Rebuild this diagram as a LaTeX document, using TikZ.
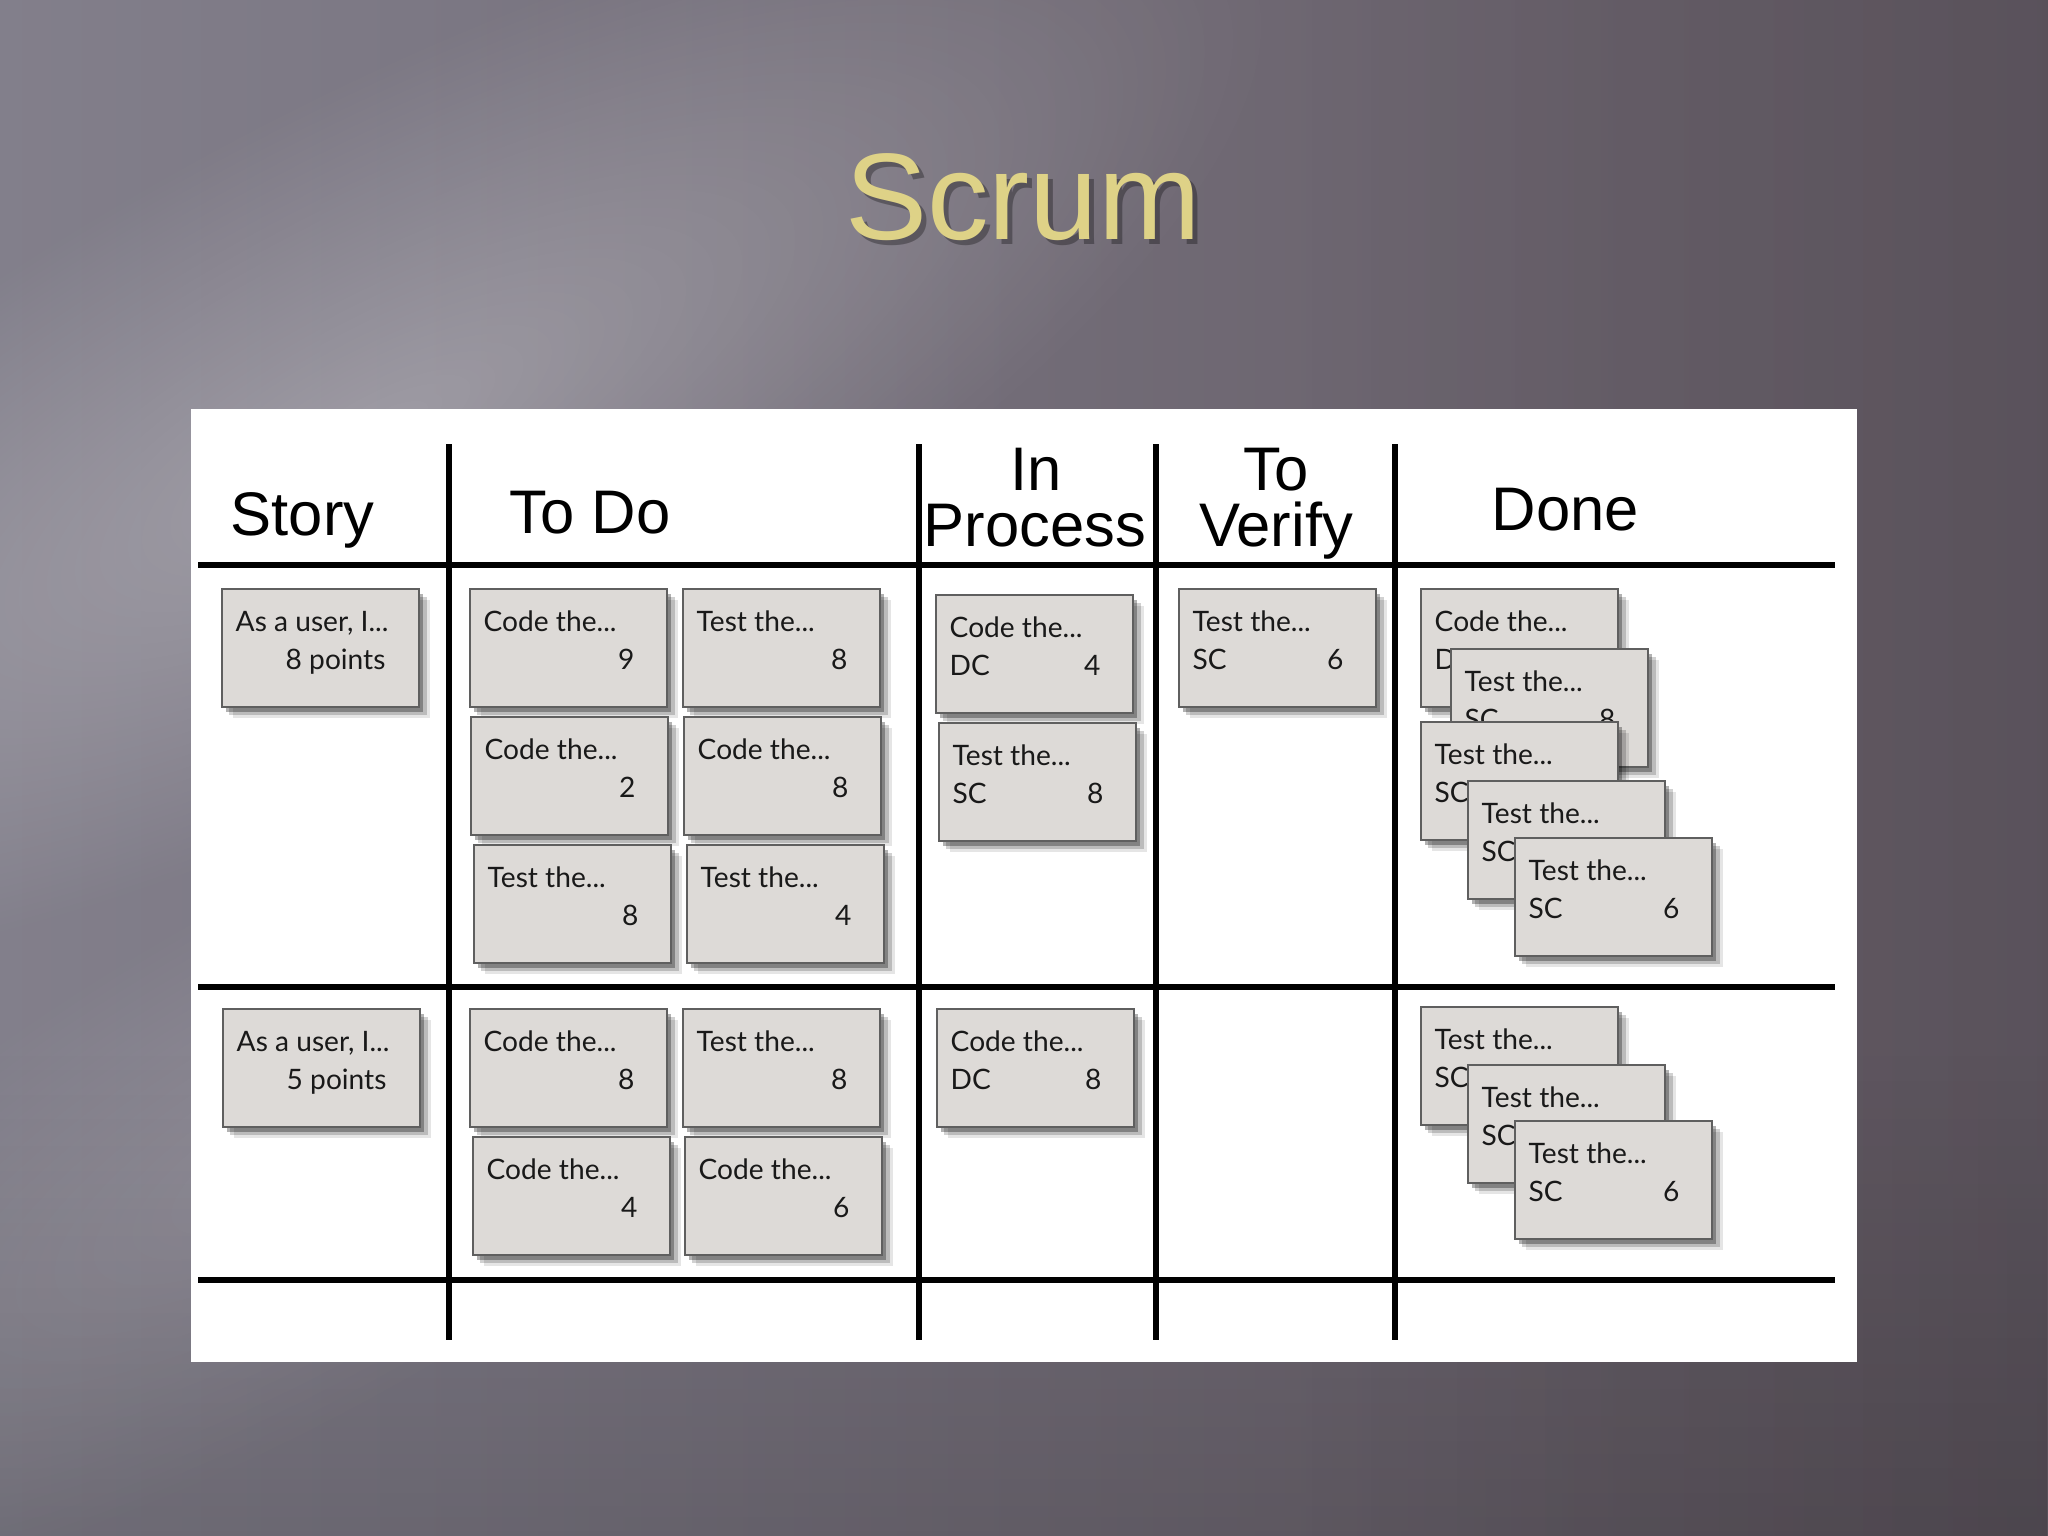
\documentclass[tikz,border=0pt]{standalone}
\usepackage{fontspec}
\setmainfont{Liberation Sans}
\newfontfamily\cardfont{Lato}
\usetikzlibrary{shadows,fadings,calc}

\definecolor{bgA}{RGB}{146,144,156}
\definecolor{bgB}{RGB}{124,120,132}
\definecolor{bgC}{RGB}{104,96,106}
\definecolor{bgD}{RGB}{90,80,90}
\definecolor{gold}{RGB}{222,210,135}
\definecolor{cardfill}{RGB}{221,218,215}
\definecolor{cardedge}{RGB}{95,95,95}
\definecolor{cardink}{RGB}{25,25,25}

\pgfdeclarehorizontalshading{bgsh}{100bp}{color(0bp)=(bgA); color(35bp)=(bgB); color(65bp)=(bgC); color(100bp)=(bgD)}
\tikzfading[name=softspot, inner color=transparent!0, outer color=transparent!100]

\tikzset{
  card/.style={anchor=north west, draw=cardedge, line width=0.6pt, fill=cardfill,
    minimum width=1.97cm, minimum height=1.18cm, inner sep=0pt,
    drop shadow={shadow xshift=3.0pt, shadow yshift=-3.0pt, opacity=0.10, fill=black},
    drop shadow={shadow xshift=2.1pt, shadow yshift=-2.2pt, opacity=0.18, fill=black},
    drop shadow={shadow xshift=1.2pt, shadow yshift=-1.4pt, opacity=0.3, fill=black}},
  ctext/.style={anchor=base west, inner sep=0pt, text=cardink, font=\cardfont\fontsize{8}{9}\selectfont},
  head/.style={inner sep=0pt, text=black, font=\fontsize{17.5}{18}\selectfont},
  grid/.style={line width=1.6pt, black},
}

\newcommand\kcard[6]{%
  \node[card] (#1) at (#2,#3) {};
  \node[ctext] (#1-t) at ($(#1.north west)+(14,43)$) {#4};
  \if\relax\detokenize{#5}\relax\else
    \node[ctext] (#1-l) at ($(#1.north west)+(14,81)$) {#5};\fi
  \if\relax\detokenize{#6}\relax\else
    \node[ctext, anchor=base east] (#1-r) at ($(#1.north east)+(-33,81)$) {#6};\fi
}

\begin{document}
\begin{tikzpicture}[x=0.01cm,y=-0.01cm]
\useasboundingbox (0,0) rectangle (2048,1536);
% background
\shade[shading=bgsh, shading angle=0] (0,0) rectangle (2048,1536);
\begin{scope}[transform canvas={rotate around={28:(380,430)}}]
  \fill[white, opacity=0.26, path fading=softspot] (380,430) ellipse [x radius=1000, y radius=330];
\end{scope}
\begin{scope}[transform canvas={rotate around={30:(300,1150)}}]
  \fill[white, opacity=0.14, path fading=softspot] (300,1150) ellipse [x radius=800, y radius=260];
\end{scope}
\fill[black, opacity=0.15, path fading=north] (0,1050) rectangle (2048,1536);
\fill[black, opacity=0.10, path fading=west] (1300,0) rectangle (2048,1536);

% title
\node[anchor=base, inner sep=0pt, text=black, opacity=0.3, font=\fontsize{35}{40}\selectfont] (titlesh) at (1028,244) {Scrum};
\node[anchor=base, inner sep=0pt, text=gold, font=\fontsize{35}{40}\selectfont] (title) at (1023,239) {Scrum};

% board
\fill[white] (191,409) rectangle (1857,1362);
\draw[grid] (198,565) -- (1835,565);
\draw[grid] (198,987) -- (1835,987);
\draw[grid] (198,1280) -- (1835,1280);
\foreach \xx in {449,919,1156,1395} \draw[grid] (\xx,444) -- (\xx,1340);

% headings
\node[head, anchor=base west] (hstory) at (230,535) {Story};
\node[head, anchor=base west] (htodo) at (509,533) {To Do};
\node[head, anchor=base] (hin) at (1036,490) {In};
\node[head, anchor=base] (hproc) at (1035,546) {Process};
\node[head, anchor=base] (hto) at (1276,490) {To};
\node[head, anchor=base] (hver) at (1276,546) {Verify};
\node[head, anchor=base west] (hdone) at (1491,530) {Done};

% row 1
\kcard{s1}{221}{588}{As a user, I...}{}{}
\node[ctext] (s1-p) at ($(s1.north west)+(64,81)$) {8 points};
\kcard{t1a}{469}{588}{Code the...}{}{9}
\kcard{t1b}{682}{588}{Test the...}{}{8}
\kcard{t2a}{470}{716}{Code the...}{}{2}
\kcard{t2b}{683}{716}{Code the...}{}{8}
\kcard{t3a}{473}{844}{Test the...}{}{8}
\kcard{t3b}{686}{844}{Test the...}{}{4}
\kcard{p1}{935}{594}{Code the...}{DC}{4}
\kcard{p2}{938}{722}{Test the...}{SC}{8}
\kcard{v1}{1178}{588}{Test the...}{SC}{6}
\kcard{d1}{1420}{588}{Code the...}{DC}{}
\kcard{d2}{1450}{648}{Test the...}{SC}{8}
\kcard{d3}{1420}{721}{Test the...}{SC}{}
\kcard{d4}{1467}{780}{Test the...}{SC}{}
\kcard{d5}{1514}{837}{Test the...}{SC}{6}

% row 2
\kcard{s2}{222}{1008}{As a user, I...}{}{}
\node[ctext] (s2-p) at ($(s2.north west)+(64,81)$) {5 points};
\kcard{u1a}{469}{1008}{Code the...}{}{8}
\kcard{u1b}{682}{1008}{Test the...}{}{8}
\kcard{u2a}{472}{1136}{Code the...}{}{4}
\kcard{u2b}{684}{1136}{Code the...}{}{6}
\kcard{p3}{936}{1008}{Code the...}{DC}{8}
\kcard{e1}{1420}{1006}{Test the...}{SC}{}
\kcard{e2}{1467}{1064}{Test the...}{SC}{}
\kcard{e3}{1514}{1120}{Test the...}{SC}{6}
\end{tikzpicture}
\end{document}
